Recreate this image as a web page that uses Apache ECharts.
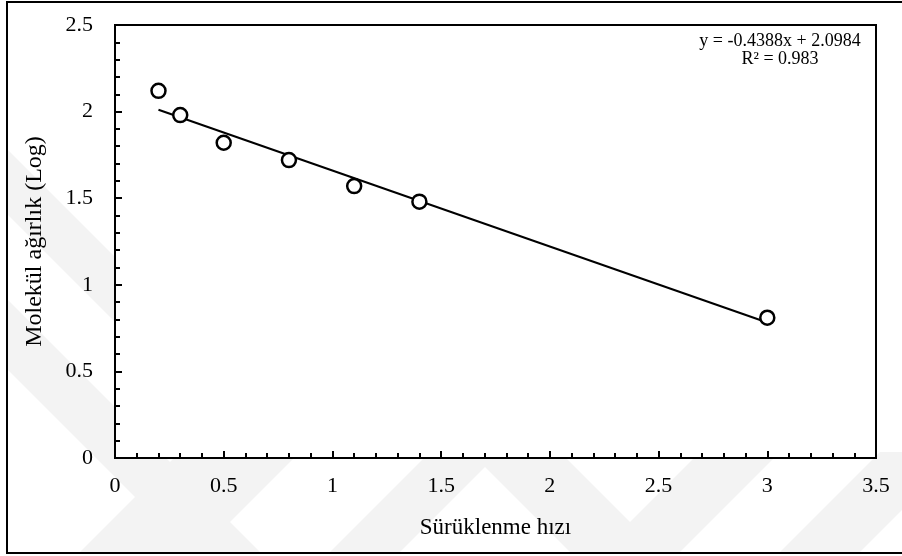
<!DOCTYPE html>
<html>
<head>
<meta charset="utf-8">
<script src="https://cdn.jsdelivr.net/npm/echarts@6/dist/echarts.min.js"></script>
<style>
  html, body { margin: 0; padding: 0; background: #fff; }
  #chart { width: 902px; height: 556px; }
</style>
</head>
<body>
<div id="chart"></div>
<script>
// Measured drift speed vs. log molecular weight
const speeds = [0.2, 0.3, 0.5, 0.8, 1.1, 1.4, 3.0];
const logWeights = [2.12, 1.98, 1.82, 1.72, 1.57, 1.48, 0.81];

// Linear fit reported on the chart
const fitSlope = -0.4388;
const fitIntercept = 2.0984;
const fitR2 = 0.983;
const fitRange = [0.2, 3.0];

const xAxisName = 'Sürüklenme hızı';
const yAxisName = 'Molekül ağırlık (Log)';

const FONT = '"Liberation Serif", "Times New Roman", serif';

const points = speeds.map((x, i) => [x, logWeights[i]]);
const fitLine = fitRange.map(x => [x, fitIntercept + fitSlope * x]);

const chart = echarts.init(document.getElementById('chart'), null, { renderer: 'canvas' });

// faint diagonal watermark bands behind the plot box
const band = '#f3f3f3';
function poly(pts) {
  return { type: 'polygon', z: -10, silent: true, shape: { points: pts }, style: { fill: band } };
}

chart.setOption({
  animation: false,
  backgroundColor: '#fff',
  grid: {
    left: 115, top: 25, right: 26, bottom: 98,
    show: true, backgroundColor: '#fff', borderColor: '#000', borderWidth: 2, z: 0
  },
  xAxis: {
    type: 'value', min: 0, max: 3.5, interval: 0.5,
    name: xAxisName, nameLocation: 'middle', nameGap: 58,
    nameTextStyle: { fontFamily: FONT, fontSize: 23, color: '#000' },
    axisLine: { lineStyle: { color: '#000', width: 2 } },
    axisTick: { inside: true, length: 7, lineStyle: { color: '#000', width: 2 } },
    minorTick: { show: true, splitNumber: 5, length: 5, lineStyle: { color: '#000', width: 2 } },
    splitLine: { show: false },
    axisLabel: { fontFamily: FONT, fontSize: 22, color: '#000', margin: 17, formatter: v => String(v) }
  },
  yAxis: {
    type: 'value', min: 0, max: 2.5, interval: 0.5,
    name: yAxisName, nameLocation: 'middle', nameGap: 68, nameRotate: 90,
    nameTextStyle: { fontFamily: FONT, fontSize: 24, color: '#000' },
    axisLine: { lineStyle: { color: '#000', width: 2 } },
    axisTick: { inside: true, length: 7, lineStyle: { color: '#000', width: 2 } },
    minorTick: { show: true, splitNumber: 5, length: 5, lineStyle: { color: '#000', width: 2 } },
    splitLine: { show: false },
    axisLabel: { fontFamily: FONT, fontSize: 22, color: '#000', margin: 22, formatter: v => String(v) }
  },
  series: [
    {
      type: 'line', data: fitLine, symbol: 'none',
      lineStyle: { color: '#000', width: 2 }, z: 2
    },
    {
      type: 'scatter', data: points, symbol: 'circle', symbolSize: 14,
      itemStyle: { color: '#fff', borderColor: '#000', borderWidth: 2.5, opacity: 1 }, z: 3
    }
  ],
  graphic: [
    poly([[8, 150], [8, 215], [130, 337], [130, 272]]),
    poly([[8, 300], [8, 370], [190, 552], [260, 552]]),
    poly([[80, 552], [200, 552], [300, 452], [180, 452]]),
    poly([[330, 552], [400, 552], [500, 452], [430, 452]]),
    poly([[470, 452], [560, 452], [660, 552], [570, 552]]),
    poly([[600, 552], [680, 552], [780, 452], [700, 452]]),
    poly([[780, 552], [860, 552], [902, 510], [902, 452], [880, 452]]),
    {
      type: 'rect', z: 100, silent: true,
      shape: { x: 7, y: 2, width: 900, height: 551 },
      style: { fill: null, stroke: '#000', lineWidth: 2 }
    },
    {
      type: 'text', z: 100, silent: true,
      x: 780, y: 32,
      style: {
        text: 'y = ' + fitSlope + 'x + ' + fitIntercept + '\nR² = ' + fitR2,
        fontFamily: FONT, fontSize: 18, lineHeight: 18, fill: '#000', align: 'center'
      }
    }
  ]
});
</script>
</body>
</html>
